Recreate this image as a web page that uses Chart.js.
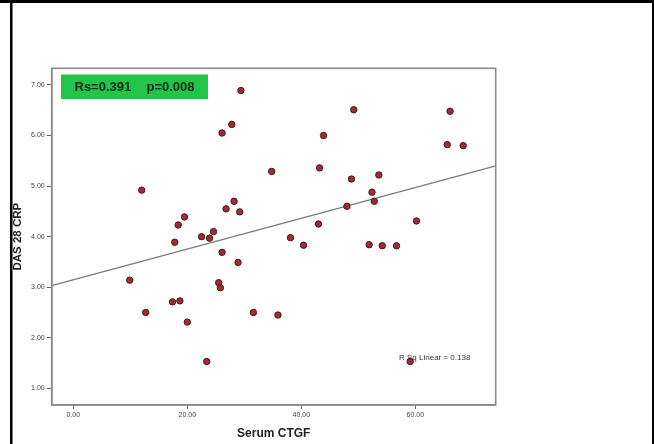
<!DOCTYPE html>
<html>
<head>
<meta charset="utf-8">
<script src="https://cdn.jsdelivr.net/npm/chart.js@4"></script>
<style>
  html, body { margin: 0; padding: 0; background: #ffffff; }
  #wrap { position: relative; width: 654px; height: 444px; }
  canvas { display: block; }
</style>
</head>
<body>
<div id="wrap"><canvas id="c" width="654" height="444"></canvas></div>
<script>
// Serum CTGF (x) and DAS 28 CRP (y)
const ctgf  = [12.0, 19.5, 18.4, 17.8, 22.5, 23.9, 24.6, 9.9, 12.7, 17.4, 18.7, 20.0, 23.4,
               29.4, 27.8, 26.1, 43.9, 43.2, 34.8, 28.2, 26.8, 29.2, 26.1, 28.9, 25.5, 25.8,
               31.6, 35.9, 43.0, 38.1, 40.4, 49.2, 66.1, 65.6, 68.4, 48.8, 53.6, 52.4, 52.8,
               48.0, 60.2, 51.9, 54.2, 56.7, 59.1];
const das28 = [4.92, 4.39, 4.23, 3.89, 4.00, 3.97, 4.10, 3.14, 2.50, 2.71, 2.73, 2.31, 1.53,
               6.89, 6.22, 6.05, 6.00, 5.36, 5.29, 4.70, 4.55, 4.49, 3.69, 3.49, 3.09, 2.99,
               2.50, 2.45, 4.25, 3.98, 3.83, 6.51, 6.48, 5.82, 5.80, 5.14, 5.22, 4.88, 4.70,
               4.60, 4.31, 3.84, 3.82, 3.82, 1.53];
// fit line end points
const fitX = [-3.79, 74.1];
const fitY = [3.03, 5.40];
// axis ticks and ranges
const xTicks = [0, 20, 40, 60];
const yTicks = [1, 2, 3, 4, 5, 6, 7];
const xRange = [-3.79, 74.1];
const yRange = [0.67, 7.33];
const statText = ['Rs=0.391', 'p=0.008'];
const rsqText = 'R Sq Linear = 0.138';

const points = ctgf.map((x, i) => ({ x: x, y: das28[i] }));
const fitLine = fitX.map((x, i) => ({ x: x, y: fitY[i] }));

const decor = {
  id: 'decor',
  beforeDraw(chart) {
    const ctx = chart.ctx;
    ctx.save();
    ctx.fillStyle = '#ffffff';
    ctx.fillRect(0, 0, chart.width, chart.height);
    ctx.restore();
  },
  afterDatasetsDraw(chart) {
    const ctx = chart.ctx;
    const a = chart.chartArea;
    ctx.save();
    // plot frame
    ctx.strokeStyle = '#8a8a8a';
    ctx.lineWidth = 1.6;
    ctx.strokeRect(a.left, a.top, a.right - a.left, a.bottom - a.top);
    // stats box
    ctx.fillStyle = '#22c44c';
    ctx.fillRect(61, 74.5, 147, 24.5);
    ctx.fillStyle = '#0e2a12';
    ctx.font = 'bold 13px "Liberation Sans", Arial, sans-serif';
    ctx.textBaseline = 'middle';
    ctx.textAlign = 'left';
    ctx.fillText(statText[0], 74.5, 87);
    ctx.fillText(statText[1], 146.5, 87);
    // R sq label
    ctx.fillStyle = '#333333';
    ctx.font = '8px "Liberation Sans", Arial, sans-serif';
    ctx.fillText(rsqText, 399, 358);
    ctx.restore();
  },
  afterDraw(chart) {
    const ctx = chart.ctx;
    ctx.save();
    ctx.fillStyle = '#000000';
    ctx.fillRect(0, 0, 654, 3);
    ctx.fillRect(10, 0, 2.5, 444);
    ctx.fillRect(652, 0, 2, 444);
    ctx.restore();
  }
};

new Chart(document.getElementById('c'), {
  type: 'scatter',
  data: {
    datasets: [
      {
        type: 'line',
        data: fitLine,
        borderColor: '#7a7a7a',
        borderWidth: 1.2,
        pointRadius: 0,
        fill: false,
        order: 2
      },
      {
        data: points,
        backgroundColor: '#a02c38',
        borderColor: '#4d1419',
        borderWidth: 1,
        pointRadius: 3.2,
        order: 1
      }
    ]
  },
  options: {
    responsive: false,
    animation: false,
    devicePixelRatio: 1,
    layout: { padding: { top: 68.3, right: 158.3, bottom: 0, left: 0 } },
    plugins: { legend: { display: false }, tooltip: { enabled: false } },
    scales: {
      x: {
        type: 'linear',
        min: xRange[0],
        max: xRange[1],
        afterBuildTicks(s) { s.ticks = xTicks.map(v => ({ value: v })); },
        afterFit(s) { s.height = 39; },
        border: { display: true, color: '#8a8a8a', width: 1.6 },
        grid: { display: true, drawOnChartArea: false, drawTicks: true, tickLength: 4, color: '#666666' },
        ticks: {
          color: '#444444',
          padding: 2,
          maxRotation: 0,
          font: { family: '"Liberation Sans", Arial, sans-serif', size: 7 },
          callback: v => Number(v).toFixed(2)
        },
        title: {
          display: true,
          text: 'Serum CTGF',
          color: '#222222',
          padding: { top: 0, bottom: 3.4 },
          font: { family: '"Liberation Sans", Arial, sans-serif', size: 12, weight: 'bold' }
        }
      },
      y: {
        type: 'linear',
        min: yRange[0],
        max: yRange[1],
        afterBuildTicks(s) { s.ticks = yTicks.map(v => ({ value: v })); },
        afterFit(s) { s.width = 51.7; },
        border: { display: true, color: '#8a8a8a', width: 1.6 },
        grid: { display: true, drawOnChartArea: false, drawTicks: true, tickLength: 5, color: '#666666' },
        ticks: {
          color: '#444444',
          padding: 2,
          font: { family: '"Liberation Sans", Arial, sans-serif', size: 7 },
          callback: v => Number(v).toFixed(2)
        },
        title: {
          display: true,
          text: 'DAS 28 CRP',
          color: '#222222',
          padding: { top: 11.4, bottom: 0 },
          font: { family: '"Liberation Sans", Arial, sans-serif', size: 11.5, weight: 'bold' }
        }
      }
    }
  },
  plugins: [decor]
});
</script>
</body>
</html>
